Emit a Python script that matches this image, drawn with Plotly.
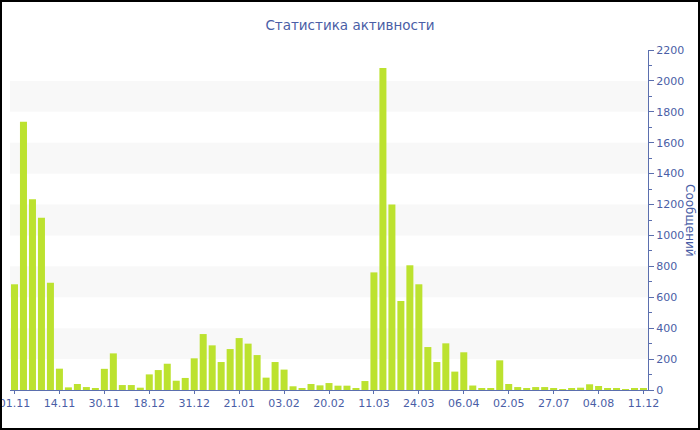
import plotly.graph_objects as go

# Values (messages per period)
values = [684, 1736, 1234, 1115, 694, 138, 17, 39, 19, 13,
          137, 237, 32, 32, 15, 101, 129, 170, 60, 78,
          205, 362, 289, 181, 265, 336, 300, 226, 80, 181,
          132, 24, 13, 39, 30, 45, 28, 28, 11, 58,
          761, 2083, 1201, 576, 807, 684, 278, 181, 302, 119,
          244, 29, 11, 11, 192, 39, 19, 11, 19, 19,
          11, 6, 11, 15, 37, 26, 9, 9, 6, 9, 9]
positions = list(range(len(values)))
tick_labels = ["01.11", "14.11", "30.11", "18.12", "31.12", "21.01", "03.02",
               "20.02", "11.03", "24.03", "06.04", "02.05", "27.07", "04.08", "11.12"]
tick_step = 5
tick_positions = positions[::tick_step]

title_text = "Статистика активности"
y_title = "Сообщений"

W, H = 700, 430
ML, MR, MT, MB = 10, 52, 50, 40
PW, PH = W - ML - MR, H - MT - MB

blue = "#4a5ea6"
axis_blue = "#5b6fae"

fig = go.Figure()
fig.add_trace(go.Bar(
    x=positions, y=values,
    marker=dict(color="#bce22f", line=dict(width=0)),
    hoverinfo="skip",
))

shapes = []
# alternating light bands
for lo in range(200, 2200, 400):
    shapes.append(dict(type="rect", xref="paper", yref="y", x0=0, x1=1,
                       y0=lo, y1=lo + 200, fillcolor="#f8f8f8",
                       line=dict(width=0), layer="below"))
# outer black frame
shapes.append(dict(type="rect", xref="paper", yref="paper",
                   x0=(1 - ML) / PW, x1=(W - 1 - ML) / PW,
                   y0=(PH + MT - (H - 1)) / PH, y1=(PH + MT - 1) / PH,
                   line=dict(color="black", width=2), fillcolor="rgba(0,0,0,0)"))

fig.update_layout(
    width=W, height=H,
    margin=dict(l=ML, r=MR, t=MT, b=MB, autoexpand=False),
    paper_bgcolor="white", plot_bgcolor="white",
    font=dict(family="DejaVu Sans", size=11, color=blue),
    title=dict(text=title_text, x=0.5, xref="container", xanchor="center",
               y=1 - 25 / H, yanchor="middle",
               font=dict(family="DejaVu Sans", size=13.5, color=blue)),
    bargap=0.22,
    showlegend=False,
    shapes=shapes,
    annotations=[dict(text=y_title, xref="paper", yref="paper",
                      x=(690 - ML) / PW, y=0.5, showarrow=False,
                      textangle=90, xanchor="center", yanchor="middle",
                      font=dict(family="DejaVu Sans", size=12, color=blue))],
    xaxis=dict(range=[-0.5, len(values) - 0.5], tickmode="array",
               tickvals=tick_positions, ticktext=tick_labels,
               showgrid=False, zeroline=False, showline=True,
               linecolor=axis_blue, linewidth=1, ticks="outside",
               ticklen=3, tickcolor=axis_blue, automargin=False,
               ticklabeloverflow="allow",
               tickfont=dict(size=11, color=blue)),
    yaxis=dict(range=[0, 2200], side="right", dtick=200, tick0=0,
               showgrid=False, zeroline=False, showline=True,
               linecolor=axis_blue, linewidth=1, ticks="outside",
               ticklen=5, tickcolor=axis_blue, automargin=False,
               ticklabeloverflow="allow",
               minor=dict(dtick=100, ticks="outside", ticklen=3,
                          tickcolor=axis_blue, showgrid=False),
               tickfont=dict(size=11, color=blue)),
)

fig.write_html("out.html", config={"displayModeBar": False},
               post_script="document.body.style.margin='0';document.body.style.padding='0';")
